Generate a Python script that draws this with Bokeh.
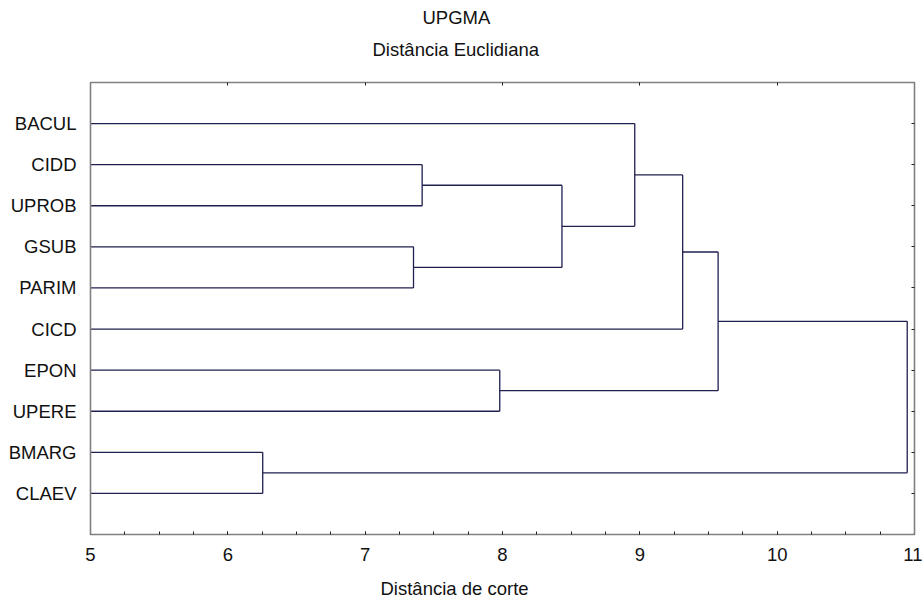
from bokeh.plotting import figure
from bokeh.models import (Range1d, LinearAxis, FixedTicker, Title, SingleIntervalTicker)
from bokeh.embed import file_html
from bokeh.resources import INLINE

# ---- data ----
leaves = ["BACUL", "CIDD", "UPROB", "GSUB", "PARIM", "CICD", "EPON", "UPERE", "BMARG", "CLAEV"]
leaf_pos = [1, 2, 3, 4, 5, 6, 7, 8, 9, 10]
# merges: new node id = 10 + index
merge_a = [1, 3, 10, 0, 13, 6, 14, 8, 16]
merge_b = [2, 4, 11, 12, 5, 7, 15, 9, 17]
merge_h = [7.415, 7.352, 8.433, 8.963, 9.312, 7.98, 9.57, 6.254, 10.947]
x_ticks = [5, 6, 7, 8, 9, 10, 11]

title1 = "UPGMA"
title2 = "Distância Euclidiana"
xlabel = "Distância de corte"

FONT = "Liberation Sans"
FS = "18.5px"
LINE = "#1f1f50"
FRAME = "#808080"
TXT = "#111111"

# ---- compute dendrogram segments ----
n = len(leaves)
node_y = {i: leaf_pos[i] for i in range(n)}
node_x = {i: 5.0 for i in range(n)}
x0, y0, x1, y1 = [], [], [], []
for k, (a, b, h) in enumerate(zip(merge_a, merge_b, merge_h)):
    nid = n + k
    for c in (a, b):
        x0.append(node_x[c]); y0.append(node_y[c]); x1.append(h); y1.append(node_y[c])
    x0.append(h); y0.append(node_y[a]); x1.append(h); y1.append(node_y[b])
    node_x[nid] = h
    node_y[nid] = (node_y[a] + node_y[b]) / 2.0

p = figure(frame_width=824, frame_height=452,
           x_range=Range1d(5, 11), y_range=Range1d(11, 0),
           output_backend="svg", toolbar_location=None,
           min_border_left=90, min_border_top=82, min_border_right=8, min_border_bottom=40,
           x_axis_type=None, y_axis_type=None)
p.outline_line_color = None
p.xgrid.visible = False
p.ygrid.visible = False
p.background_fill_color = "white"
p.border_fill_color = "white"

def style_axis(ax, labels=True):
    ax.axis_line_color = FRAME
    ax.axis_line_width = 1.6
    ax.major_tick_line_color = "#202020"
    ax.minor_tick_line_color = "#202020"
    ax.major_tick_out = 0
    ax.minor_tick_out = 0
    ax.major_tick_in = 3
    ax.minor_tick_in = 3
    ax.major_label_text_font = FONT
    ax.major_label_text_font_size = FS
    ax.major_label_text_color = TXT
    if not labels:
        ax.major_label_text_font_size = "0px"
        ax.major_label_text_color = None

# bottom
xb = LinearAxis(ticker=SingleIntervalTicker(interval=1, num_minor_ticks=4))
style_axis(xb)
xb.major_label_standoff = 13
p.add_layout(xb, "below")
# top (blank labels reserve space below the titles)
xt = LinearAxis(ticker=FixedTicker(ticks=x_ticks))
style_axis(xt)
xt.minor_tick_line_color = None
xt.major_label_text_font_size = "12px"
xt.major_label_overrides = {t: " " for t in x_ticks}
xt.major_label_standoff = 0
p.add_layout(xt, "above")
# left
yl = LinearAxis(ticker=FixedTicker(ticks=leaf_pos))
style_axis(yl)
yl.major_label_overrides = {pos: name for pos, name in zip(leaf_pos, leaves)}
yl.major_tick_in = 0
yl.major_label_standoff = 14
p.add_layout(yl, "left")
# right
yr = LinearAxis(ticker=FixedTicker(ticks=leaf_pos))
style_axis(yr, labels=False)
yr.major_label_standoff = 0
p.add_layout(yr, "right")

p.segment(x0=x0, y0=y0, x1=x1, y1=y1, line_color=LINE, line_width=1.3)

p.add_layout(Title(text=title2, align="left", offset=282, vertical_align="bottom", standoff=12,
                   text_font=FONT, text_font_size=FS, text_font_style="normal", text_color=TXT), "above")
p.add_layout(Title(text=title1, align="left", offset=332, vertical_align="bottom", standoff=6,
                   text_font=FONT, text_font_size=FS, text_font_style="normal", text_color=TXT), "above")
p.add_layout(Title(text=xlabel, align="left", offset=290, vertical_align="bottom", standoff=24,
                   text_font=FONT, text_font_size=FS, text_font_style="normal", text_color=TXT), "below")

open("out.html", "w").write(file_html(p, INLINE))
